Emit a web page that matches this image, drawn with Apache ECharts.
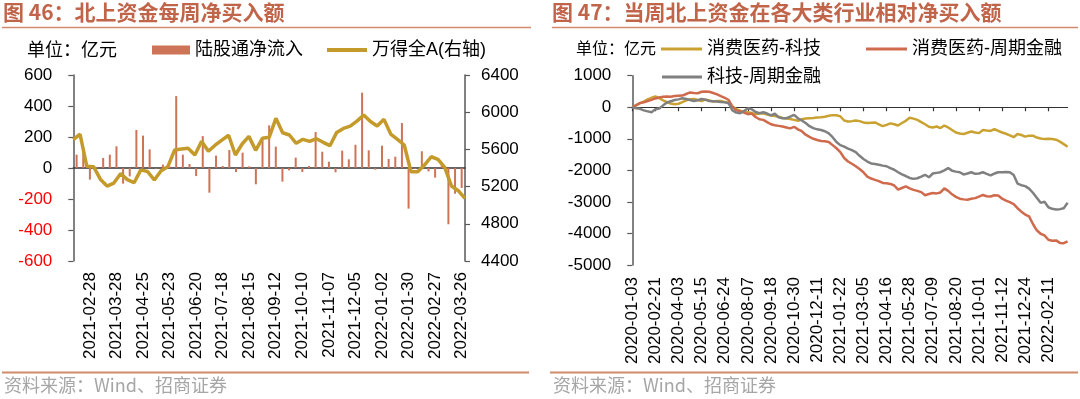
<!DOCTYPE html>
<html>
<head>
<meta charset="utf-8">
<script src="https://cdn.jsdelivr.net/npm/echarts@6/dist/echarts.min.js"></script>
<style>
  html, body { margin: 0; padding: 0; background: #fff; }
  #main { width: 1080px; height: 399px; }
</style>
</head>
<body>
<div id="main"></div>
<script>
// 图46 周度日期
const weeks46 = [
  '2021-02-14','2021-02-21','2021-02-28','2021-03-07','2021-03-14','2021-03-21','2021-03-28','2021-04-04',
  '2021-04-11','2021-04-18','2021-04-25','2021-05-02','2021-05-09','2021-05-16','2021-05-23','2021-05-30',
  '2021-06-06','2021-06-13','2021-06-20','2021-06-27','2021-07-04','2021-07-11','2021-07-18','2021-07-25',
  '2021-08-01','2021-08-08','2021-08-15','2021-08-22','2021-08-29','2021-09-05','2021-09-12','2021-09-19',
  '2021-09-26','2021-10-03','2021-10-10','2021-10-17','2021-10-24','2021-10-31','2021-11-07','2021-11-14',
  '2021-11-21','2021-11-28','2021-12-05','2021-12-12','2021-12-19','2021-12-26','2022-01-02','2022-01-09',
  '2022-01-16','2022-01-23','2022-01-30','2022-02-06','2022-02-13','2022-02-20','2022-02-27','2022-03-06',
  '2022-03-13','2022-03-20','2022-03-26'
];
// 陆股通净流入(亿元)
const northFlow = [
  86, 100, -75, 5, 65, 86, 140, -101, -54, 245, 209, 120, -5, 22, 10, 464,
  86, 26, -52, 206, -159, 80, 13, 116, -26, 99, 11, -105, 185, 275, 138, -88,
  -15, 67, -26, 13, 232, 105, 41, -28, 112, 56, 150, 486, 114, -11, 144, 58,
  73, 290, -262, -5, 108, -22, -62, 28, -363, -166, -129
];
// 万得全A(右轴)
const windA = [
  5705, 5763, 5418, 5414, 5280, 5206, 5238, 5339, 5275, 5242, 5380, 5362, 5271, 5370, 5414, 5593,
  5605, 5612, 5540, 5688, 5580, 5645, 5700, 5752, 5540, 5658, 5740, 5590, 5719, 5730, 5934, 5779,
  5755, 5665, 5708, 5687, 5715, 5676, 5640, 5783, 5826, 5851, 5904, 5970, 5900, 5851, 5923, 5765,
  5708, 5647, 5360, 5360, 5432, 5521, 5493, 5407, 5206, 5156, 5074
];

// 图47 周度日期
const weeks47 = [
  '2020-01-03','2020-01-10','2020-01-17','2020-01-23','2020-02-07','2020-02-14','2020-02-21','2020-02-28',
  '2020-03-06','2020-03-13','2020-03-20','2020-03-27','2020-04-03','2020-04-10','2020-04-17','2020-04-24',
  '2020-04-30','2020-05-08','2020-05-15','2020-05-22','2020-05-29','2020-06-05','2020-06-12','2020-06-19',
  '2020-06-24','2020-07-03','2020-07-10','2020-07-17','2020-07-24','2020-07-31','2020-08-07','2020-08-14',
  '2020-08-21','2020-08-28','2020-09-04','2020-09-11','2020-09-18','2020-09-25','2020-09-30','2020-10-09',
  '2020-10-16','2020-10-23','2020-10-30','2020-11-06','2020-11-13','2020-11-20','2020-11-27','2020-12-04',
  '2020-12-11','2020-12-18','2020-12-25','2020-12-31','2021-01-08','2021-01-15','2021-01-22','2021-01-29',
  '2021-02-05','2021-02-10','2021-02-19','2021-02-26','2021-03-05','2021-03-12','2021-03-19','2021-03-26',
  '2021-04-02','2021-04-09','2021-04-16','2021-04-23','2021-04-30','2021-05-07','2021-05-14','2021-05-21',
  '2021-05-28','2021-06-04','2021-06-11','2021-06-18','2021-06-25','2021-07-02','2021-07-09','2021-07-16',
  '2021-07-23','2021-07-30','2021-08-06','2021-08-13','2021-08-20','2021-08-27','2021-09-03','2021-09-10',
  '2021-09-17','2021-09-24','2021-10-01','2021-10-08','2021-10-15','2021-10-22','2021-10-29','2021-11-05',
  '2021-11-12','2021-11-19','2021-11-26','2021-12-03','2021-12-10','2021-12-17','2021-12-24','2021-12-31',
  '2022-01-07','2022-01-14','2022-01-21','2022-01-28','2022-02-11','2022-02-18','2022-02-25','2022-03-04',
  '2022-03-11','2022-03-18'
];
// 消费医药-科技
const consVsTech = [
  0, 60, 130, 180, 250, 300, 340, 290, 220, 160, 120, 95, 110, 160, 220, 250,
  265, 230, 200, 240, 215, 180, 200, 195, 170, 140, 20, -60, -110, -140, -160, -180,
  -220, -200, -190, -230, -265, -280, -300, -340, -360, -370, -400, -430, -380, -360, -350, -340,
  -325, -320, -300, -270, -250, -255, -290, -420, -450, -440, -420, -440, -480, -500, -490, -480,
  -540, -600, -560, -510, -540, -580, -500, -430, -330, -360, -400, -470, -540, -620, -640, -610,
  -660, -580, -640, -720, -800, -830, -850, -810, -770, -800, -820, -720, -740, -750, -690, -750,
  -800, -840, -890, -950, -850, -880, -930, -900, -900, -960, -990, -1010, -1000, -1005, -1030, -1090,
  -1170, -1250
];
// 消费医药-周期金融
const consVsCyc = [
  0, 70, 130, 160, 200, 235, 280, 310, 335, 340, 330, 355, 365, 370, 420, 470,
  450, 445, 490, 500, 490, 450, 410, 350, 300, 230, 20, -100, -130, -170, -220, -200,
  -310, -380, -400, -470, -540, -570, -590, -610, -640, -670, -620, -700, -760, -870, -940, -1000,
  -1040, -1070, -1080, -1100, -1200, -1300, -1420, -1610, -1720, -1790, -1870, -1960, -2060, -2200, -2260, -2300,
  -2340, -2400, -2410, -2430, -2480, -2610, -2560, -2510, -2570, -2620, -2650, -2690, -2790, -2750, -2720, -2730,
  -2700, -2570, -2650, -2760, -2840, -2900, -2920, -2930, -2900, -2880, -2830, -2780, -2820, -2830, -2790, -2800,
  -2900, -2960, -3010, -3070, -3200, -3310, -3400, -3460, -3700, -3900, -4010, -4060, -4200, -4230, -4220, -4300,
  -4310, -4250
];
// 科技-周期金融
const techVsCyc = [
  0, -30, -50, -100, -130, -160, -60, -40, 60, 150, 190, 230, 250, 285, 260, 230,
  200, 220, 260, 240, 200, 190, 180, 165, 155, 127, -100, -170, -190, -120, -30, -60,
  -150, -190, -160, -200, -260, -200, -320, -350, -345, -300, -240, -350, -420, -500, -600, -660,
  -700, -720, -760, -830, -950, -1100, -1200, -1250, -1310, -1360, -1420, -1540, -1640, -1720, -1780, -1800,
  -1820, -1850, -1870, -1930, -1980, -2060, -2130, -2180, -2240, -2270, -2250, -2200, -2140, -2220, -2100, -2080,
  -2060, -2000, -1930, -2010, -2040, -2060, -2130, -2100, -2060, -2110, -2100, -2060, -2110, -2160, -2100, -2060,
  -2060, -2050, -2060, -2150, -2420, -2470, -2500, -2580, -2710, -2870, -3030, -2990, -3170, -3220, -3240, -3230,
  -3200, -3030
];

const FONT = '"Liberation Sans", Arial, "Noto Sans CJK SC", sans-serif';
const CJK = '"Noto Sans CJK SC", sans-serif';
const AXIS_COLOR = '#595959';
const TITLE_COLOR = '#C0654A';
const RULE_COLOR = '#D28A6D';

const chart = echarts.init(document.getElementById('main'), null, { renderer: 'canvas' });

const legendBase = {
  padding: 0,
  itemGap: 10,
  textStyle: { fontSize: 18, color: '#000', fontFamily: FONT }
};

const plainNum = (v) => String(v);

const option = {
  animation: false,
  backgroundColor: '#fff',
  textStyle: { fontFamily: FONT },
  graphic: [
    { type: 'text', left: 3, top: 2, style: { text: '图 46：北上资金每周净买入额', fill: TITLE_COLOR, font: 'bold 21px ' + CJK } },
    { type: 'text', left: 552, top: 2, style: { text: '图 47：当周北上资金在各大类行业相对净买入额', fill: TITLE_COLOR, font: 'bold 21px ' + CJK } },
    { type: 'line', shape: { x1: 2, y1: 27.5, x2: 531, y2: 27.5 }, style: { stroke: RULE_COLOR, lineWidth: 1.5 } },
    { type: 'line', shape: { x1: 552, y1: 27.5, x2: 1078, y2: 27.5 }, style: { stroke: RULE_COLOR, lineWidth: 1.5 } },
    { type: 'line', shape: { x1: 2, y1: 372.5, x2: 529, y2: 372.5 }, style: { stroke: RULE_COLOR, lineWidth: 2 } },
    { type: 'line', shape: { x1: 550, y1: 372.5, x2: 1078, y2: 372.5 }, style: { stroke: RULE_COLOR, lineWidth: 2 } },
    { type: 'text', left: 4, top: 376, style: { text: '资料来源：Wind、招商证券', fill: '#A6A6A6', font: '18px ' + CJK } },
    { type: 'text', left: 553, top: 376, style: { text: '资料来源：Wind、招商证券', fill: '#A6A6A6', font: '18px ' + CJK } },
    { type: 'text', left: 27, top: 40, style: { text: '单位：亿元', fill: '#000', font: '18px ' + CJK } },
    { type: 'text', left: 576, top: 40, style: { text: '单位：亿元', fill: '#000', font: '16px ' + CJK } }
  ],
  legend: [
    Object.assign({}, legendBase, { left: 152, top: 41, data: ['陆股通净流入'], icon: 'rect', itemWidth: 38, itemHeight: 9 }),
    Object.assign({}, legendBase, { left: 327, top: 41, data: ['万得全A(右轴)'], icon: 'rect', itemWidth: 40, itemHeight: 4 }),
    Object.assign({}, legendBase, { left: 661, top: 40, data: ['消费医药-科技'], icon: 'rect', itemWidth: 41, itemHeight: 3 }),
    Object.assign({}, legendBase, { left: 866, top: 40, data: ['消费医药-周期金融'], icon: 'rect', itemWidth: 41, itemHeight: 3 }),
    Object.assign({}, legendBase, { left: 662, top: 68, data: ['科技-周期金融'], icon: 'rect', itemWidth: 40, itemHeight: 3 })
  ],
  grid: [
    { left: 73.3, right: 615, top: 75, bottom: 138, outerBoundsMode: 'none' },
    { left: 632.3, right: 12.4, top: 75.7, bottom: 134, outerBoundsMode: 'none' }
  ],
  xAxis: [
    {
      gridIndex: 0, type: 'category', data: weeks46, boundaryGap: true,
      axisLine: { onZero: true, onZeroAxisIndex: 0, lineStyle: { color: '#333', width: 1.5 } },
      axisTick: { interval: (i) => i % 3 === 2, length: 5, lineStyle: { color: '#333', width: 1.2 } },
      axisLabel: { interval: (i) => i % 4 === 2, rotate: 90, margin: 11, fontSize: 17, color: '#000', fontFamily: FONT },
      splitLine: { show: false }
    },
    {
      gridIndex: 0, type: 'category', data: weeks46, boundaryGap: false, show: false
    },
    {
      gridIndex: 1, type: 'category', data: weeks47, boundaryGap: false,
      axisLine: { onZero: true, lineStyle: { color: '#333', width: 1.2 } },
      axisTick: { interval: (i) => i % 6 === 0, length: 4, lineStyle: { color: '#333', width: 1.2 } },
      axisLabel: { interval: (i) => i % 6 === 0, rotate: 90, margin: 12, fontSize: 17, color: '#000', fontFamily: FONT },
      splitLine: { show: false }
    }
  ],
  yAxis: [
    {
      gridIndex: 0, type: 'value', min: -600, max: 600, interval: 200,
      axisLine: { show: true, lineStyle: { color: AXIS_COLOR, width: 1.5 } },
      axisTick: { show: true, length: 5, lineStyle: { color: AXIS_COLOR, width: 1.2 } },
      axisLabel: { margin: 21, fontSize: 17, fontFamily: FONT, formatter: plainNum, color: (v) => (v < 0 ? '#FF0000' : '#000') },
      splitLine: { show: false }
    },
    {
      gridIndex: 0, type: 'value', position: 'right', min: 4400, max: 6400, interval: 400,
      axisLine: { show: true, lineStyle: { color: AXIS_COLOR, width: 1.5 } },
      axisTick: { show: true, length: 5, lineStyle: { color: AXIS_COLOR, width: 1.2 } },
      axisLabel: { margin: 16, fontSize: 17, fontFamily: FONT, formatter: plainNum, color: '#000' },
      splitLine: { show: false }
    },
    {
      gridIndex: 1, type: 'value', min: -5000, max: 1000, interval: 1000,
      axisLine: { show: true, lineStyle: { color: AXIS_COLOR, width: 1.5 } },
      axisTick: { show: true, length: 5, lineStyle: { color: AXIS_COLOR, width: 1.2 } },
      axisLabel: { margin: 21, fontSize: 17, fontFamily: FONT, formatter: plainNum, color: '#000' },
      splitLine: { show: false }
    }
  ],
  series: [
    {
      name: '陆股通净流入', type: 'bar', xAxisIndex: 0, yAxisIndex: 0,
      data: northFlow, barWidth: 2, itemStyle: { color: '#CD7458' }
    },
    {
      name: '万得全A(右轴)', type: 'line', xAxisIndex: 1, yAxisIndex: 1,
      data: windA, showSymbol: false, symbol: 'none',
      lineStyle: { color: '#C49A2A', width: 3.5 }, itemStyle: { color: '#C49A2A' }
    },
    {
      name: '消费医药-科技', type: 'line', xAxisIndex: 2, yAxisIndex: 2,
      data: consVsTech, symbol: 'none',
      lineStyle: { color: '#C9A232', width: 2.5 }, itemStyle: { color: '#C9A232' }
    },
    {
      name: '消费医药-周期金融', type: 'line', xAxisIndex: 2, yAxisIndex: 2,
      data: consVsCyc, symbol: 'none',
      lineStyle: { color: '#D06A4C', width: 2.5 }, itemStyle: { color: '#D06A4C' }
    },
    {
      name: '科技-周期金融', type: 'line', xAxisIndex: 2, yAxisIndex: 2,
      data: techVsCyc, symbol: 'none',
      lineStyle: { color: '#808080', width: 2.5 }, itemStyle: { color: '#808080' }
    }
  ]
};

chart.setOption(option);
</script>
</body>
</html>
